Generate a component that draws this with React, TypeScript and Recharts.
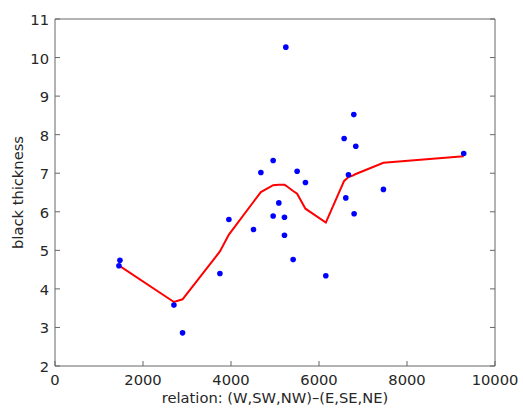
import { ComposedChart, Line, Scatter, XAxis, YAxis, Label } from "recharts";

// measured points
const pointX = [1453, 1476, 2703, 2899, 3748, 3952, 4512, 4679, 4958, 4958, 5087, 5215, 5215, 5246, 5412, 5503, 5692, 6155, 6571, 6609, 6669, 6791, 6798, 6836, 7464, 9289];
const pointY = [4.6, 4.74, 3.58, 2.86, 4.4, 5.8, 5.54, 7.02, 7.33, 5.89, 6.23, 5.86, 5.39, 10.27, 4.76, 7.05, 6.76, 4.34, 7.9, 6.36, 6.96, 8.52, 5.95, 7.7, 6.58, 7.51];

// smoothed fit (red)
const fitX = [1453, 1476, 2703, 2899, 3748, 3952, 4512, 4679, 4958, 5087, 5215, 5246, 5412, 5503, 5692, 6155, 6571, 6609, 6669, 6791, 6798, 6836, 7464, 9289];
const fitY = [4.6, 4.59, 3.66, 3.73, 4.97, 5.41, 6.26, 6.51, 6.69, 6.7, 6.7, 6.68, 6.54, 6.47, 6.08, 5.72, 6.8, 6.84, 6.9, 6.95, 6.96, 6.98, 7.27, 7.44];

const xTicks = [0, 2000, 4000, 6000, 8000, 10000];
const yTicks = [2, 3, 4, 5, 6, 7, 8, 9, 10, 11];

const points = pointX.map((x, i) => ({ x, y: pointY[i] }));
const fit = fitX.map((x, i) => ({ x, y: fitY[i] }));

const FONT = "DejaVu Sans";
const FS = 14.7;
const AXIS = "#666666";
const TEXT = "#262626";

const BottomTick = (p: any) => (
  <g>
    <line x1={p.x} x2={p.x} y1={p.y} y2={p.y - 5} stroke={AXIS} />
    <text x={p.x} y={p.y + 18.5} textAnchor="middle" fill={TEXT} fontSize={FS} fontFamily={FONT}>
      {p.payload.value}
    </text>
  </g>
);
const TopTick = (p: any) => <line x1={p.x} x2={p.x} y1={p.y} y2={p.y + 5} stroke={AXIS} />;
const LeftTick = (p: any) => (
  <g>
    <line x1={p.x} x2={p.x + 5} y1={p.y} y2={p.y} stroke={AXIS} />
    <text x={p.x - 6} y={p.y + 6} textAnchor="end" fill={TEXT} fontSize={FS} fontFamily={FONT}>
      {p.payload.value}
    </text>
  </g>
);
const RightTick = (p: any) => <line x1={p.x} x2={p.x - 5} y1={p.y} y2={p.y} stroke={AXIS} />;

export default function App() {
  return (
    <div style={{ position: "absolute", left: 0, top: 0, background: "#fff" }}>
      <ComposedChart width={523} height={412} margin={{ top: 0, right: 0, bottom: 0, left: 0 }}>
        <XAxis
          type="number"
          dataKey="x"
          domain={[0, 10000]}
          ticks={xTicks}
          height={46}
          tickSize={0}
          tickMargin={0}
          tickLine={false}
          tick={BottomTick}
          axisLine={{ stroke: AXIS }}
          allowDataOverflow
        >
          <Label
            content={(lp: any) => (
              <text x={lp.viewBox.x + lp.viewBox.width / 2} y={lp.viewBox.y + 36.5} textAnchor="middle" fill={TEXT} fontSize={FS} fontFamily={FONT}>
                relation: (W,SW,NW)–(E,SE,NE)
              </text>
            )}
          />
        </XAxis>
        <XAxis
          xAxisId="top"
          orientation="top"
          type="number"
          domain={[0, 10000]}
          ticks={xTicks}
          height={19}
          tickSize={0}
          tickMargin={0}
          tickLine={false}
          tick={TopTick}
          axisLine={{ stroke: AXIS }}
          allowDataOverflow
        />
        <YAxis
          type="number"
          dataKey="y"
          domain={[2, 11]}
          ticks={yTicks}
          width={55}
          tickSize={0}
          tickMargin={0}
          tickLine={false}
          tick={LeftTick}
          axisLine={{ stroke: AXIS }}
          allowDataOverflow
        >
          <Label
            content={(lp: any) => {
              const cx = 23;
              const cy = lp.viewBox.y + lp.viewBox.height / 2;
              return (
                <text x={cx} y={cy} transform={`rotate(-90, ${cx}, ${cy})`} textAnchor="middle" fill={TEXT} fontSize={FS} fontFamily={FONT}>
                  black thickness
                </text>
              );
            }}
          />
        </YAxis>
        <YAxis
          yAxisId="right"
          orientation="right"
          type="number"
          domain={[2, 11]}
          ticks={yTicks}
          width={28}
          tickSize={0}
          tickMargin={0}
          tickLine={false}
          tick={RightTick}
          axisLine={{ stroke: AXIS }}
          allowDataOverflow
        />
        <Line data={fit} dataKey="y" type="linear" stroke="#ff0000" strokeWidth={2} dot={false} isAnimationActive={false} />
        <Scatter
          data={points}
          dataKey="y"
          fill="#0000ff"
          isAnimationActive={false}
          shape={(s: any) => <circle cx={s.cx} cy={s.cy} r={2.8} fill="#0000ff" />}
        />
      </ComposedChart>
    </div>
  );
}
